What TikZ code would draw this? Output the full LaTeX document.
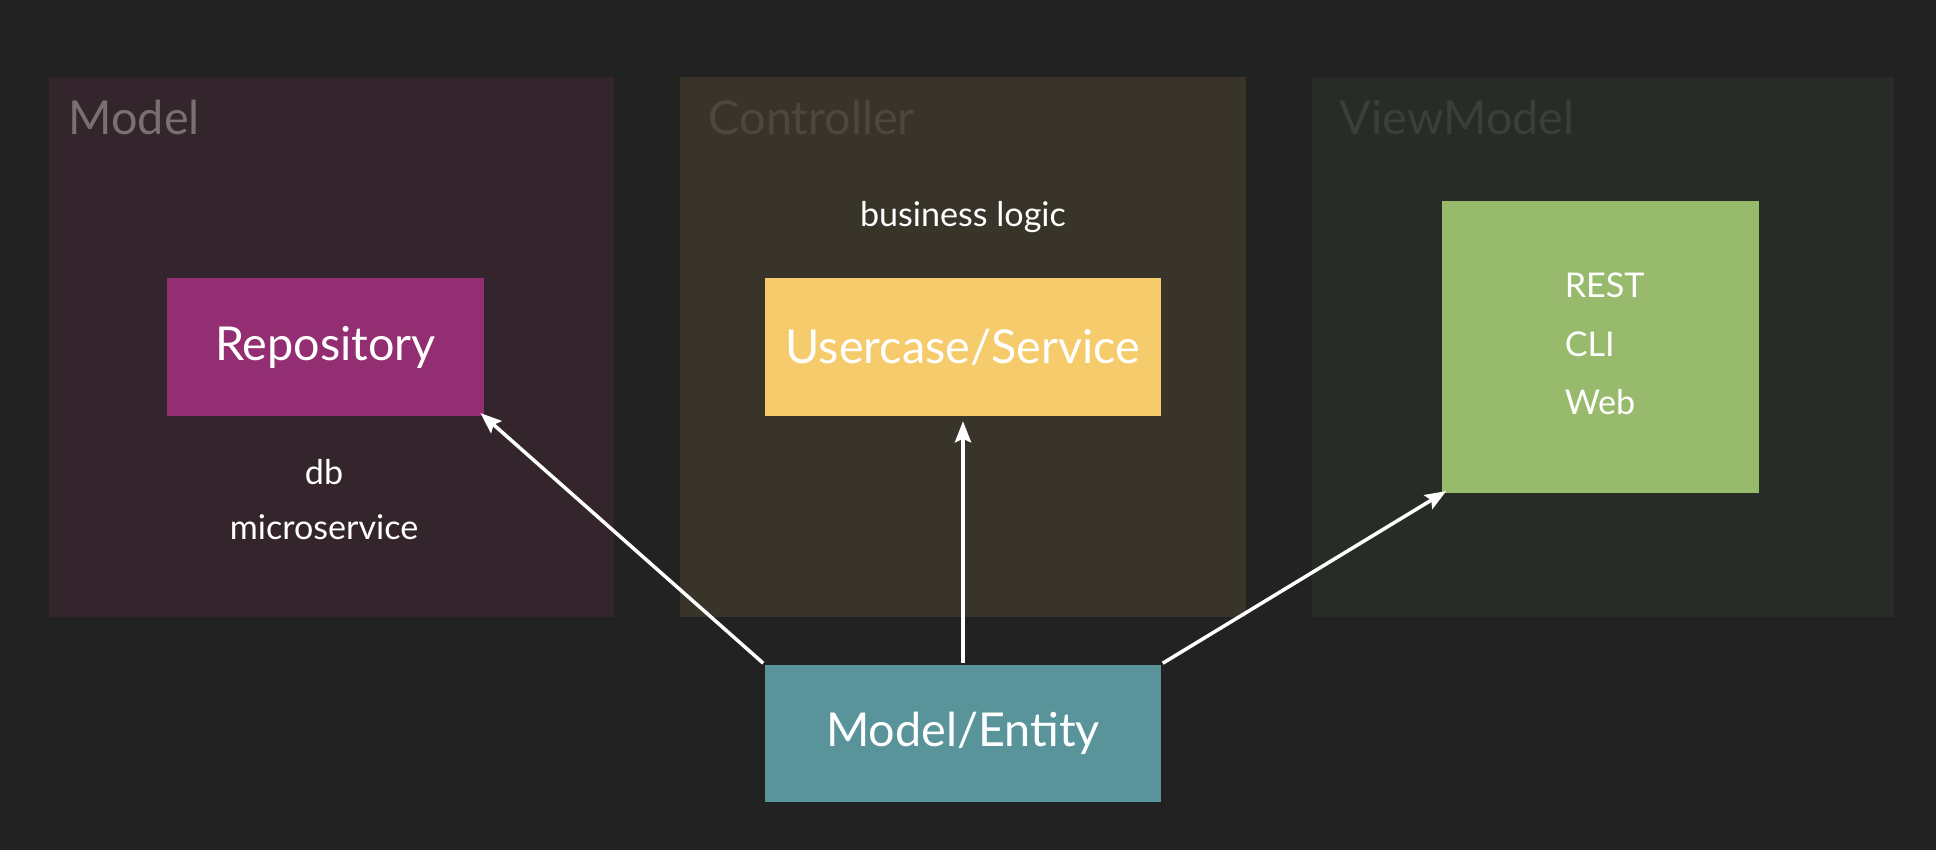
\documentclass[tikz,border=0pt]{standalone}
\usepackage{fontspec}
\setmainfont{Lato}
\usepackage{tikz}
\usetikzlibrary{
    positioning,
    arrows.meta
}
\definecolor{BgDark}{RGB}{34,34,34}
\definecolor{PanelModel}{RGB}{51,37,43}
\definecolor{PanelCtrl}{RGB}{56,52,42}
\definecolor{PanelView}{RGB}{40,44,39}
\definecolor{TitleModel}{RGB}{122,112,116}
\definecolor{TitleCtrl}{RGB}{76,72,63}
\definecolor{TitleView}{RGB}{58,63,57}
\definecolor{RepoPurple}{RGB}{147,46,114}
\definecolor{ServiceYellow}{RGB}{245,203,107}
\definecolor{ViewGreen}{RGB}{151,186,108}
\definecolor{EntityTeal}{RGB}{88,148,153}

\begin{document}
\begin{tikzpicture}[
            >={Stealth[length=6pt,width=4.6pt,inset=1pt]},
            line width=1pt,
            panel/.style={rectangle, inner sep=0pt, minimum height=5.4cm},
            block/.style={rectangle, inner sep=0pt, minimum height=1.38cm, text=white, font=\fontsize{13.3}{16}\selectfont},
            paneltitle/.style={anchor=base west, inner sep=0pt, font=\fontsize{13.3}{16}\selectfont},
            note/.style={anchor=base, inner sep=0pt, text=white, font=\fontsize{9.7}{11}\selectfont},
            link/.style={->, white, line width=1pt},
        ]

        % background and bounding box
        \fill[BgDark] (0,0) rectangle (19.36,8.5);
        \useasboundingbox (0,0) rectangle (19.36,8.5);

        % ===== PANELS =====
        \node[panel, fill=PanelModel, minimum width=5.65cm] (pmodel) at (3.315,5.03) {};
        \node[panel, fill=PanelCtrl, minimum width=5.66cm] (pctrl) at (9.63,5.03) {};
        \node[panel, fill=PanelView, minimum width=5.82cm] (pview) at (16.03,5.03) {};

        \node[paneltitle, text=TitleModel] (tmodel) at (0.67,7.15) {Model};
        \node[paneltitle, text=TitleCtrl] (tctrl) at (7.07,7.15) {Controller};
        \node[paneltitle, text=TitleView] (tview) at (13.38,7.15) {ViewModel};

        % ===== MODEL =====
        \node[block, fill=RepoPurple, minimum width=3.17cm] (repo) at (3.255,5.03) {Repository};
        \node[note] (db) at (3.24,3.65) {db};
        \node[note] (micro) at (3.24,3.10) {microservice};

        % ===== CONTROLLER =====
        \node[note] (logic) at (9.63,6.23) {business logic};
        \node[block, fill=ServiceYellow, minimum width=3.96cm] (service) at (9.63,5.03) {Usercase/Service};

        % ===== VIEWMODEL =====
        \node[block, fill=ViewGreen, minimum width=3.17cm, minimum height=2.92cm] (view) at (16.005,5.03) {};
        \node[note, anchor=base west] (rest) at (15.63,5.52) {REST};
        \node[note, anchor=base west] (cli) at (15.63,4.93) {CLI};
        \node[note, anchor=base west] (web) at (15.63,4.35) {Web};

        % ===== ENTITY =====
        \node[block, fill=EntityTeal, minimum width=3.96cm, minimum height=1.37cm] (entity) at (9.63,1.165) {Model/Entity};

        \draw[link, shorten >=-2pt] (entity.north west) -- (repo.south east);
        \draw[link, shorten >=1pt] (entity.north) -- (service.south);
        \draw[link, shorten >=-2pt] (entity.north east) -- (view.south west);
        \end{tikzpicture}
\end{document}
